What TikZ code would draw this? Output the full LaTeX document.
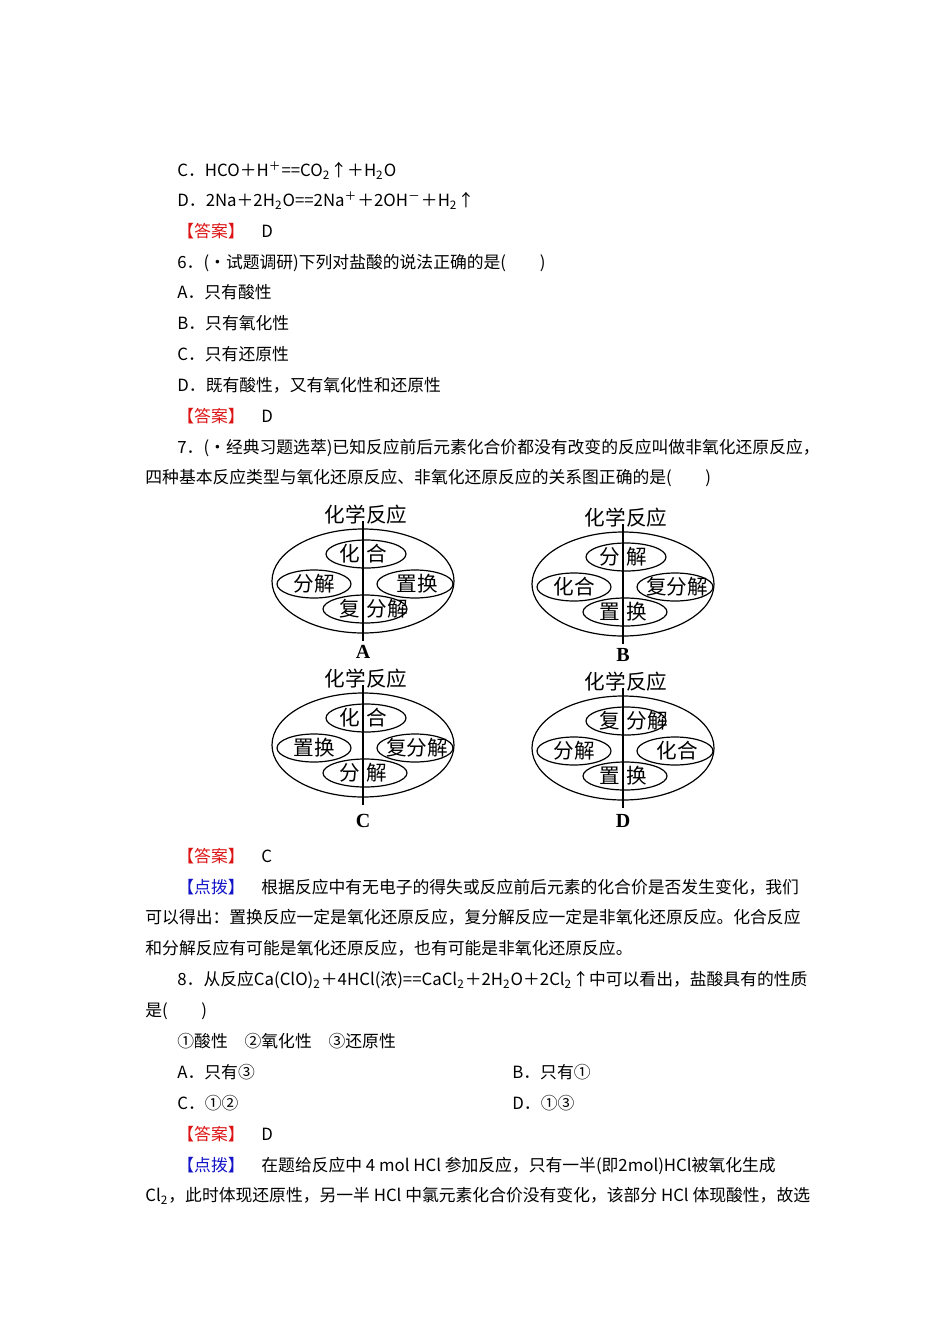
\documentclass[tikz,border=0pt]{standalone}
\usepackage{fontspec}
\setmainfont{Noto Sans CJK SC}
\newfontfamily\lbl{Liberation Serif}
\usetikzlibrary{shapes.geometric}
\definecolor{ansred}{RGB}{220,20,20}
\definecolor{tipblue}{RGB}{20,20,200}
\tikzset{
 ln/.style={anchor=base west,inner sep=0,font=\fontsize{8.4pt}{9pt}\selectfont},
 big/.style={ellipse,draw,line width=0.6pt,inner sep=0,minimum width=91pt,minimum height=52pt},
 sm/.style={ellipse,draw,line width=0.6pt,inner sep=0,minimum width=40pt,minimum height=14pt},
 dt/.style={inner sep=0,font=\fontsize{10.3pt}{10.5pt}\selectfont},
}
\newcommand{\ans}{\textcolor{ansred}{【答案】}}
\newcommand{\tip}{\textcolor{tipblue}{【点拨】}}
\newcommand{\rxdiag}[9]{%
 \begin{scope}[shift={(#2,#3)}]
  \node[big] (#1e) at (0,0) {};
  \node[sm] (#1t) at (3,-27) {};
  \node[sm,minimum width=37pt] (#1l) at (-49,3) {};
  \node[sm,minimum width=38pt] (#1r) at (52,3) {};
  \node[sm,minimum width=42pt] (#1b) at (2,28) {};
  \node[dt] (#1h) at (3,-66) {化学反应};
  \coordinate (#1u) at (0,-60);
  \coordinate (#1d) at (0,60);
  \draw[line width=0.6pt] (#1u) -- (#1d);
  \node[dt,anchor=east] (#1ta) at (-3,-27) {#4};
  \node[dt,anchor=west] (#1tb) at (3,-27) {#5};
  \node[dt] (#1lt) at (-49,3) {#6};
  \node[dt] (#1rt) at (54,3) {#7};
  \node[dt,anchor=east] (#1ba) at (-3,28) {#8};
  \node[dt,anchor=west] (#1bb) at (3,28) {#9};
 \end{scope}}
\begin{document}
\begin{tikzpicture}[x=0.5pt,y=-0.5pt]
\useasboundingbox (0,0) rectangle (950,1344);
\node[ln] (l1) at (177,176) {C．HCO＋H\textsuperscript{＋}==CO\textsubscript{2}↑＋H\textsubscript{2}O};
\node[ln] (l2) at (177,206) {D．2Na＋2H\textsubscript{2}O==2Na\textsuperscript{＋}＋2OH\textsuperscript{－}＋H\textsubscript{2}↑};
\node[ln] (l3) at (177,237) {\ans\quad D};
\node[ln] (l4) at (177,268) {6．(·试题调研)下列对盐酸的说法正确的是(\qquad)};
\node[ln] (l5) at (177,298) {A．只有酸性};
\node[ln] (l6) at (177,329) {B．只有氧化性};
\node[ln] (l7) at (177,360) {C．只有还原性};
\node[ln] (l8) at (177,391) {D．既有酸性，又有氧化性和还原性};
\node[ln] (l9) at (177,422) {\ans\quad D};
\node[ln] (l10) at (177,453) {7．(·经典习题选萃)已知反应前后元素化合价都没有改变的反应叫做非氧化还原反应，};
\node[ln] (l11) at (145,483) {四种基本反应类型与氧化还原反应、非氧化还原反应的关系图正确的是(\qquad)};
\rxdiag{A}{363}{581}{化}{合}{分解}{置换}{复}{分解}
\rxdiag{B}{623}{584}{分}{解}{化合}{复分解}{置}{换}
\rxdiag{C}{363}{745}{化}{合}{置换}{复分解}{分}{解}
\rxdiag{D}{623}{748}{复}{分解}{分解}{化合}{置}{换}
\node[inner sep=0,font=\lbl\bfseries\fontsize{10pt}{11pt}\selectfont] (la) at (363,652) {A};
\node[inner sep=0,font=\lbl\bfseries\fontsize{10pt}{11pt}\selectfont] (lb) at (623,655) {B};
\node[inner sep=0,font=\lbl\bfseries\fontsize{10pt}{11pt}\selectfont] (lc) at (363,821) {C};
\node[inner sep=0,font=\lbl\bfseries\fontsize{10pt}{11pt}\selectfont] (ld) at (623,821) {D};
\node[ln] (l12) at (177,862) {\ans\quad C};
\node[ln] (l13) at (177,893) {\tip\quad 根据反应中有无电子的得失或反应前后元素的化合价是否发生变化，我们};
\node[ln] (l14) at (145,923) {可以得出：置换反应一定是氧化还原反应，复分解反应一定是非氧化还原反应。化合反应};
\node[ln] (l15) at (145,954) {和分解反应有可能是氧化还原反应，也有可能是非氧化还原反应。};
\node[ln] (l16) at (177,985) {8．从反应Ca(ClO)\textsubscript{2}＋4HCl(浓)==CaCl\textsubscript{2}＋2H\textsubscript{2}O＋2Cl\textsubscript{2}↑中可以看出，盐酸具有的性质};
\node[ln] (l17) at (145,1016) {是(\qquad)};
\node[ln] (l18) at (177,1047) {①酸性\quad ②氧化性\quad ③还原性};
\node[ln] (l19) at (177,1078) {A．只有③};
\node[ln] (l20) at (512,1078) {B．只有①};
\node[ln] (l21) at (177,1109) {C．①②};
\node[ln] (l22) at (512,1109) {D．①③};
\node[ln] (l23) at (177,1140) {\ans\quad D};
\node[ln] (l24) at (177,1171) {\tip\quad 在题给反应中 4 mol HCl 参加反应，只有一半(即2mol)HCl被氧化生成};
\node[ln] (l25) at (145,1201) {Cl\textsubscript{2}，此时体现还原性，另一半 HCl 中氯元素化合价没有变化，该部分 HCl 体现酸性，故选};
\end{tikzpicture}
\end{document}
